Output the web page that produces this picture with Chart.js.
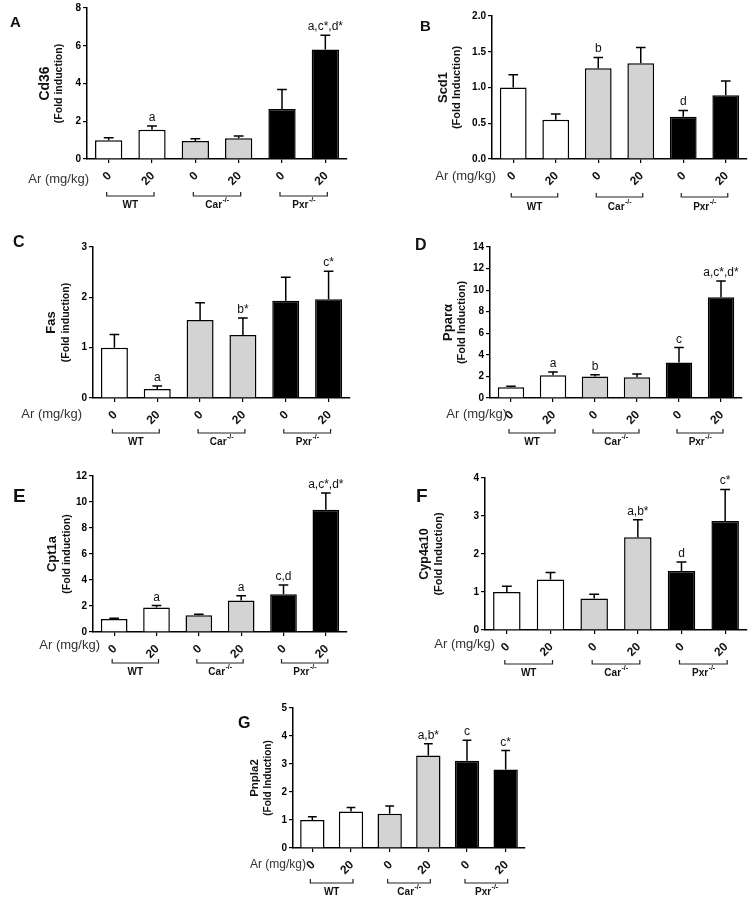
<!DOCTYPE html>
<html><head><meta charset="utf-8">
<script src="https://cdn.jsdelivr.net/npm/chart.js@4.4.0/dist/chart.umd.min.js"></script>
<style>
html,body{margin:0;padding:0;background:#fff;}
#fig{position:relative;width:752px;height:899px;overflow:hidden;background:#fff;}
.panel{position:absolute;}
</style></head><body><div id="fig"></div>
<script>
// ---------- data ----------
const doseLabels = ['0', '20', '0', '20', '0', '20'];
const genotypes = ['WT', 'Car', 'Pxr'];
const genotypeSup = ['', '-/-', '-/-'];
const doseAxisLabel = 'Ar (mg/kg)';

const cd36Mean = [1.0, 1.55, 0.95, 1.1, 2.65, 5.8];
const cd36Err  = [0.12, 0.2, 0.12, 0.12, 1.03, 0.75];
const cd36Sig  = ['', 'a', '', '', '', 'a,c*,d*'];

const scd1Mean = [1.0, 0.55, 1.27, 1.34, 0.59, 0.89];
const scd1Err  = [0.18, 0.08, 0.15, 0.22, 0.09, 0.2];
const scd1Sig  = ['', '', 'b', '', 'd', ''];

const fasMean = [1.0, 0.18, 1.55, 1.25, 1.93, 1.96];
const fasErr  = [0.26, 0.06, 0.34, 0.34, 0.47, 0.56];
const fasSig  = ['', 'a', '', 'b*', '', 'c*'];

const pparaMean = [1.0, 2.1, 2.0, 1.93, 3.3, 9.35];
const pparaErr  = [0.08, 0.32, 0.15, 0.29, 1.38, 1.5];
const pparaSig  = ['', 'a', 'b', '', 'c', 'a,c*,d*'];

const cpt1aMean = [1.0, 1.88, 1.28, 2.42, 2.9, 9.4];
const cpt1aErr  = [0.05, 0.15, 0.08, 0.36, 0.72, 1.3];
const cpt1aSig  = ['', 'a', '', 'a', 'c,d', 'a,c*,d*'];

const cyp4a10Mean = [1.0, 1.33, 0.83, 2.44, 1.55, 2.87];
const cyp4a10Err  = [0.15, 0.18, 0.11, 0.46, 0.24, 0.83];
const cyp4a10Sig  = ['', '', '', 'a,b*', 'd', 'c*'];

const pnpla2Mean = [1.0, 1.3, 1.22, 3.3, 3.12, 2.8];
const pnpla2Err  = [0.12, 0.15, 0.28, 0.42, 0.73, 0.68];
const pnpla2Sig  = ['', '', '', 'a,b*', 'c', 'c*'];

// ---------- styles / layout ----------
const FONT = '"Liberation Sans", Arial, Helvetica, sans-serif';
const barFills = ['#ffffff', '#ffffff', '#d3d3d3', '#d3d3d3', '#000000', '#000000'];
const YW = 28;

const panels = [
  {letter:'A', lpos:[10,27,15], box:[0,0,370,215], plot:[87,7,347,159], yMax:8, step:2, dec:0,
   mean:cd36Mean, err:cd36Err, sig:cd36Sig, title:['Cd36','(Fold induction)'], tx:[45,59], ts:[14,10.5],
   ar:[89,179,13], br:[37,46]},
  {letter:'B', lpos:[420,31,15], box:[375,0,377,215], plot:[492,16,747,159], yMax:2, step:0.5, dec:1,
   mean:scd1Mean, err:scd1Err, sig:scd1Sig, title:['Scd1','(Fold Induction)'], tx:[443,457], ts:[13,11],
   ar:[496,176,13], br:[38,48]},
  {letter:'C', lpos:[13,247,16], box:[0,215,370,240], plot:[93,247,350,398], yMax:3, step:1, dec:0,
   mean:fasMean, err:fasErr, sig:fasSig, title:['Fas','(Fold induction)'], tx:[51,66], ts:[13,10.5],
   ar:[82,414,13], br:[35,44]},
  {letter:'D', lpos:[415,250,16], box:[375,215,377,240], plot:[490,247,742,398], yMax:14, step:2, dec:0,
   mean:pparaMean, err:pparaErr, sig:pparaSig, title:['Ppar\u03b1','(Fold Induction)'], tx:[448,462], ts:[13,11],
   ar:[507,414,13], br:[35,44]},
  {letter:'E', lpos:[13,502,19], box:[0,435,370,250], plot:[93,476,347,632], yMax:12, step:2, dec:0,
   mean:cpt1aMean, err:cpt1aErr, sig:cpt1aSig, title:['Cpt1a','(Fold induction)'], tx:[52,67], ts:[13,10.5],
   ar:[100,645,13], br:[31,40]},
  {letter:'F', lpos:[416,502,19], box:[375,435,377,250], plot:[485,478,747,630], yMax:4, step:1, dec:0,
   mean:cyp4a10Mean, err:cyp4a10Err, sig:cyp4a10Sig, title:['Cyp4a10','(Fold Induction)'], tx:[425,439], ts:[12.5,11],
   ar:[495,644,13], br:[34,43]},
  {letter:'G', lpos:[238,728,16], box:[180,660,400,239], plot:[293,708,525,848], yMax:5, step:1, dec:0,
   mean:pnpla2Mean, err:pnpla2Err, sig:pnpla2Sig, title:['Pnpla2','(Fold Induction)'], tx:[255,268], ts:[11.5,10],
   ar:[306,865,12], br:[35,44]}
];

// ---------- plugin drawing error bars, letters, labels ----------
const figPlugin = {
  id: 'fig',
  afterDatasetsDraw(chart, args, o) {
    const {ctx} = chart;
    const ys = chart.scales.y;
    const meta = chart.getDatasetMeta(0);
    ctx.save();
    ctx.strokeStyle = '#000';
    ctx.lineWidth = 1.5;
    ctx.fillStyle = '#111';
    o.mean.forEach((m, i) => {
      const bar = meta.data[i];
      const x = bar.x, w = bar.width;
      const yT = ys.getPixelForValue(m + o.err[i]);
      const yM = ys.getPixelForValue(m);
      ctx.beginPath();
      ctx.moveTo(x, yM); ctx.lineTo(x, yT);
      ctx.moveTo(x - w * 0.18, yT); ctx.lineTo(x + w * 0.18, yT);
      ctx.stroke();
      if (o.sig[i]) {
        ctx.font = '12px ' + FONT;
        ctx.textAlign = 'center';
        ctx.textBaseline = 'alphabetic';
        ctx.fillText(o.sig[i], x, yT - 5);
      }
    });
    ctx.restore();
  },
  afterDraw(chart, args, o) {
    const {ctx, chartArea} = chart;
    const xs = chart.scales.x;
    const bx = o.box[0], by = o.box[1];
    const y0 = chartArea.bottom;
    ctx.save();
    ctx.fillStyle = '#111';
    // panel letter
    ctx.font = 'bold ' + o.lpos[2] + 'px ' + FONT;
    ctx.textAlign = 'left'; ctx.textBaseline = 'alphabetic';
    ctx.fillText(o.letter, o.lpos[0] - bx, o.lpos[1] - by);
    // y-axis title (two lines)
    const midY = (chartArea.top + chartArea.bottom) / 2;
    for (let k = 0; k < 2; k++) {
      ctx.save();
      ctx.translate(o.tx[k] - bx, midY);
      ctx.rotate(-Math.PI / 2);
      ctx.font = 'bold ' + o.ts[k] + 'px ' + FONT;
      ctx.textAlign = 'center'; ctx.textBaseline = 'middle';
      ctx.fillText(o.title[k], 0, 0);
      ctx.restore();
    }
    // dose tick labels, rotated
    doseLabels.forEach((lab, i) => {
      const x = xs.getPixelForValue(i);
      ctx.save();
      ctx.translate(x + 1, y0 + 15);
      ctx.rotate(-Math.PI / 4);
      ctx.font = 'bold 12px ' + FONT;
      ctx.textAlign = 'right'; ctx.textBaseline = 'middle';
      ctx.fillText(lab, 0, 0);
      ctx.restore();
    });
    // dose axis label
    ctx.font = o.ar[2] + 'px ' + FONT;
    ctx.fillStyle = '#333';
    ctx.textAlign = 'right'; ctx.textBaseline = 'middle';
    ctx.fillText(doseAxisLabel, o.ar[0] - bx, o.ar[1] - by);
    // genotype brackets and labels
    ctx.strokeStyle = '#222'; ctx.lineWidth = 1.2; ctx.fillStyle = '#111';
    genotypes.forEach((g, k) => {
      const x1 = xs.getPixelForValue(2 * k) - 2;
      const x2 = xs.getPixelForValue(2 * k + 1) + 2;
      const yb = y0 + o.br[0];
      ctx.beginPath();
      ctx.moveTo(x1, yb - 4); ctx.lineTo(x1, yb); ctx.lineTo(x2, yb); ctx.lineTo(x2, yb - 4);
      ctx.stroke();
      ctx.font = 'bold 10px ' + FONT;
      const w1 = ctx.measureText(g).width;
      ctx.font = 'bold 7px ' + FONT;
      const w2 = genotypeSup[k] ? ctx.measureText(genotypeSup[k]).width : 0;
      const xs0 = (x1 + x2) / 2 - (w1 + w2) / 2;
      const yl = y0 + o.br[1];
      ctx.textAlign = 'left'; ctx.textBaseline = 'middle';
      ctx.font = 'bold 10px ' + FONT;
      ctx.fillText(g, xs0, yl);
      if (genotypeSup[k]) {
        ctx.font = 'bold 7px ' + FONT;
        ctx.fillText(genotypeSup[k], xs0 + w1 + 0.5, yl - 5);
      }
    });
    ctx.restore();
  }
};

const fig = document.getElementById('fig');
panels.forEach(p => {
  const div = document.createElement('div');
  div.className = 'panel';
  div.style.left = p.box[0] + 'px';
  div.style.top = p.box[1] + 'px';
  div.style.width = p.box[2] + 'px';
  div.style.height = p.box[3] + 'px';
  const cv = document.createElement('canvas');
  div.appendChild(cv);
  fig.appendChild(div);
  new Chart(cv, {
    type: 'bar',
    data: {
      labels: doseLabels,
      datasets: [{
        data: p.mean,
        backgroundColor: barFills,
        borderColor: '#000',
        borderWidth: 1.5,
        barPercentage: 0.63,
        categoryPercentage: 1
      }]
    },
    options: {
      responsive: true,
      maintainAspectRatio: false,
      animation: false,
      events: [],
      layout: {padding: {
        left: p.plot[0] - p.box[0] - YW,
        top: p.plot[1] - p.box[1],
        right: p.box[0] + p.box[2] - p.plot[2],
        bottom: p.box[1] + p.box[3] - p.plot[3]
      }},
      plugins: {
        legend: {display: false},
        tooltip: {enabled: false},
        fig: {box: p.box, letter: p.letter, lpos: p.lpos, mean: p.mean, err: p.err, sig: p.sig,
              title: p.title, tx: p.tx, ts: p.ts, ar: p.ar, br: p.br}
      },
      scales: {
        x: {
          offset: true,
          grid: {display: true, offset: false, drawOnChartArea: false, drawTicks: true, tickLength: 4, color: '#000', lineWidth: 1.2},
          border: {display: true, color: '#000', width: 1.5},
          ticks: {display: false},
          afterFit: s => { s.height = 0; }
        },
        y: {
          min: 0, max: p.yMax,
          ticks: {stepSize: p.step, color: '#000', padding: 2,
                  font: {family: FONT, weight: 'bold', size: 10},
                  callback: v => Number(v).toFixed(p.dec)},
          grid: {display: true, drawOnChartArea: false, drawTicks: true, tickLength: 4, color: '#000', lineWidth: 1.2},
          border: {display: true, color: '#000', width: 1.5},
          afterFit: s => { s.width = YW; }
        }
      }
    },
    plugins: [figPlugin]
  });
});
</script>
</body></html>
